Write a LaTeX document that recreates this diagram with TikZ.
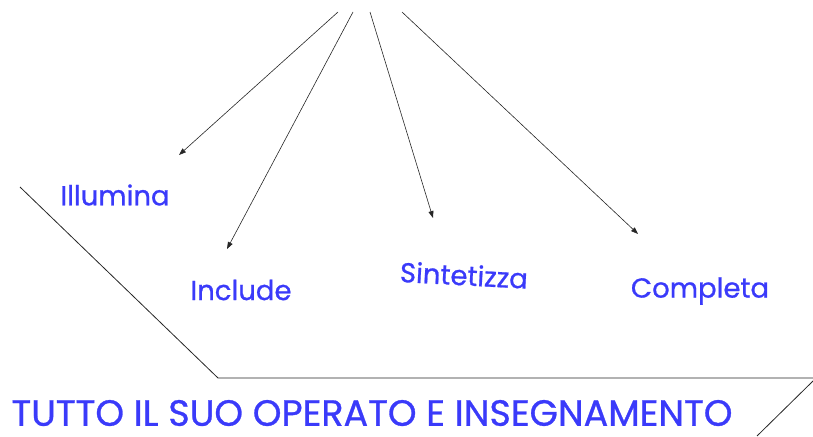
\documentclass[tikz,border=0pt]{standalone}
\usepackage{fontspec}
\setmainfont{Poppins}
\newfontfamily\labfont[FakeBold=0.8]{Poppins}
\usetikzlibrary{arrows.meta}
\definecolor{lbl}{RGB}{58,58,250}
\begin{document}
\begin{tikzpicture}[x=1pt,y=-1pt,
  lab/.style={text=lbl,font=\labfont\fontsize{27.5}{30}\selectfont,inner sep=0pt},
  big/.style={text=lbl,font=\labfont\fontsize{36.5}{38}\selectfont,inner sep=0pt},
  arr/.style={draw=black!85,line width=0.6pt,-{Triangle[length=7pt,width=5pt]}},
  frame/.style={draw=black!85,line width=0.8pt}]
\useasboundingbox (0,0) rectangle (813,436);
\coordinate (s1) at (338,12);
\coordinate (s2) at (353,12);
\coordinate (s3) at (370,12);
\coordinate (s4) at (402,12);
\coordinate (e1) at (179,155);
\coordinate (e2) at (227,249);
\coordinate (e3) at (433,218);
\coordinate (e4) at (638,234);
\draw[arr] (s1) -- (e1);
\draw[arr] (s2) -- (e2);
\draw[arr] (s3) -- (e3);
\draw[arr] (s4) -- (e4);
\node[lab] (ill) at (115,195) {Illumina};
\node[lab] (inc) at (241,290) {Include};
\node[lab,rotate=-3] (sin) at (464,275) {Sintetizza};
\node[lab] (com) at (700,291) {Completa};
\node[big] (tut) at (372,413) {TUTTO IL SUO OPERATO E INSEGNAMENTO};
\coordinate (p1) at (20,187);
\coordinate (p2) at (218,378);
\coordinate (p3) at (813,378);
\coordinate (q1) at (813,381);
\coordinate (q2) at (757,436);
\draw[frame] (p1) -- (p2) -- (p3);
\draw[frame] (q1) -- (q2);
\end{tikzpicture}
\end{document}
